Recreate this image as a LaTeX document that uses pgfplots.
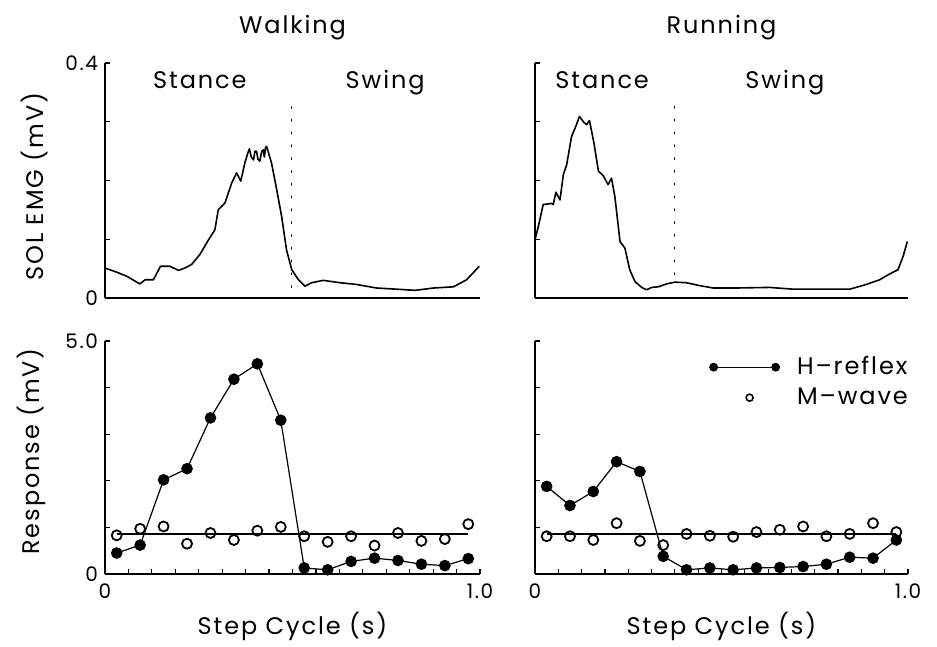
\documentclass[border=0pt]{standalone}
\usepackage{pgfplots}
\pgfplotsset{compat=1.18}
\usepackage{fontspec}
\setmainfont{Poppins}[LetterSpace=8]
\newcommand\lab{\fontsize{12}{14}\selectfont}
\newcommand\tic{\fontsize{10}{12}\selectfont}

\pgfplotsset{
  panel/.style={
    scale only axis, anchor=south west,
    axis lines*=left, xmin=0, xmax=1, ymin=0,
    axis line style={line width=0.75pt},
    tick align=inside, major tick length=2.5pt, minor tick length=2.5pt,
    every tick/.style={line width=0.6pt, black},
    tick label style={font=\tic},
    title style={font=\lab, at={(0.5,1)}, anchor=base, yshift=8.5pt},
    label style={font=\lab},
    clip=false,
  },
  emg/.style={panel, width=187.5pt, height=117.5pt, ymax=0.4,
    xtick=\empty, ytick={0,0.1,0.2,0.3,0.4}},
  resp/.style={panel, width=187.5pt, height=116.5pt, ymax=5,
    ytick={0,1,2,3,4,5}, xtick={0,1}, xticklabels={0,1.0},
    minor xtick={0.0625,0.125,0.1875,0.25,0.3125,0.375,0.4375,0.5,0.5625,0.625,0.6875,0.75,0.8125,0.875,0.9375},
    xticklabel style={yshift=-1.5pt},
    xlabel={Step Cycle (s)},
    xlabel style={at={(0.5,0)}, anchor=base, yshift=-30.5pt}},
  trace/.style={black, line width=0.8pt, line join=round},
  stride/.style={black, line width=0.6pt, dash pattern=on 0.8pt off 5.6pt, line cap=round},
  meanline/.style={black, line width=0.7pt},
  hrefl/.style={black, line width=0.6pt, mark=*, mark size=2.6pt, mark options={fill=black}},
  mwave/.style={only marks, mark=o, mark size=2.5pt, mark options={line width=0.9pt, fill=white, draw=black}},
}

\begin{document}
\begin{tikzpicture}
\useasboundingbox (0,0) rectangle (468.5pt,323.5pt);

% ---------- Walking: soleus EMG ----------
\begin{axis}[emg, at={(52.5pt,174.5pt)}, title={Walking},
  yticklabels={0,,,,0.4},
  ylabel={SOL EMG (mV)},
  ylabel style={at={(axis description cs:-0.187,0.474)}, anchor=center}]
\addplot[trace] coordinates {
(0,0.051)(0.031,0.044)(0.058,0.037)(0.093,0.024)(0.107,0.031)(0.129,0.031)
(0.148,0.054)(0.173,0.054)(0.196,0.047)(0.213,0.051)(0.231,0.057)(0.253,0.074)
(0.276,0.099)(0.293,0.116)(0.302,0.150)(0.320,0.162)(0.338,0.196)(0.351,0.213)
(0.362,0.199)(0.373,0.230)(0.380,0.245)(0.385,0.254)(0.390,0.240)(0.396,0.235)
(0.400,0.250)(0.404,0.250)(0.408,0.236)(0.413,0.233)(0.418,0.250)(0.422,0.252)
(0.425,0.240)(0.428,0.256)(0.431,0.258)(0.444,0.230)(0.458,0.184)(0.471,0.139)
(0.484,0.082)(0.498,0.048)(0.516,0.031)(0.533,0.020)(0.551,0.026)(0.582,0.030)
(0.627,0.026)(0.671,0.023)(0.724,0.017)(0.778,0.015)(0.827,0.013)(0.876,0.017)
(0.929,0.019)(0.964,0.031)(0.982,0.043)(0.998,0.054)};
\addplot[stride] coordinates {(0.498,0.018)(0.498,0.335)};
\node[font=\lab, anchor=base] at (axis cs:0.253,0.357) {Stance};
\node[font=\lab, anchor=base] at (axis cs:0.747,0.357) {Swing};
\end{axis}

% ---------- Running: soleus EMG ----------
\begin{axis}[emg, at={(267.5pt,174.5pt)}, width=186.5pt, title={Running},
  yticklabels={}]
\addplot[trace] coordinates {
(0,0.099)(0.009,0.122)(0.022,0.159)(0.045,0.161)(0.049,0.159)(0.056,0.180)
(0.067,0.167)(0.076,0.210)(0.085,0.227)(0.098,0.275)(0.110,0.293)(0.119,0.309)
(0.131,0.299)(0.138,0.295)(0.146,0.302)(0.158,0.264)(0.170,0.216)(0.183,0.208)
(0.196,0.193)(0.205,0.204)(0.214,0.173)(0.228,0.096)(0.241,0.085)(0.254,0.048)
(0.268,0.028)(0.286,0.018)(0.299,0.014)(0.313,0.018)(0.330,0.019)(0.353,0.024)
(0.375,0.027)(0.406,0.026)(0.442,0.021)(0.478,0.017)(0.540,0.017)(0.629,0.018)
(0.692,0.015)(0.763,0.015)(0.844,0.015)(0.888,0.023)(0.924,0.031)(0.951,0.041)
(0.973,0.048)(0.987,0.071)(0.998,0.096)};
\addplot[stride] coordinates {(0.373,0.040)(0.373,0.335)};
\node[font=\lab, anchor=base] at (axis cs:0.180,0.357) {Stance};
\node[font=\lab, anchor=base] at (axis cs:0.670,0.357) {Swing};
\end{axis}

% ---------- Walking: responses ----------
\begin{axis}[resp, at={(52.5pt,36.5pt)},
  yticklabels={0,,,,,5.0},
  ylabel={Response (mV)},
  ylabel style={at={(axis description cs:-0.195,0.526)}, anchor=center}]
\addplot[meanline] coordinates {(0.031,0.86)(0.969,0.86)};
\addplot[mwave] coordinates {
(0.03125,0.83)(0.09375,0.97)(0.15625,1.02)(0.21875,0.65)(0.28125,0.88)(0.34375,0.73)
(0.40625,0.93)(0.46875,1.01)(0.53125,0.81)(0.59375,0.69)(0.65625,0.81)(0.71875,0.61)
(0.78125,0.88)(0.84375,0.71)(0.90625,0.75)(0.96875,1.07)};
\addplot[hrefl] coordinates {
(0.03125,0.45)(0.09375,0.62)(0.15625,2.02)(0.21875,2.26)(0.28125,3.35)(0.34375,4.18)
(0.40625,4.51)(0.46875,3.30)(0.53125,0.13)(0.59375,0.09)(0.65625,0.27)(0.71875,0.34)
(0.78125,0.29)(0.84375,0.21)(0.90625,0.18)(0.96875,0.33)};
\end{axis}

% ---------- Running: responses ----------
\begin{axis}[resp, at={(267.5pt,36.5pt)}, width=186.5pt,
  yticklabels={},
  legend cell align=left,
  legend style={at={(rel axis cs:0.466,0.948)}, anchor=north west,
    draw=none, fill=none, inner sep=0pt, font=\lab,
    row sep=2pt, column sep=7pt, nodes={inner sep=1.5pt}}]
\addplot[meanline, forget plot] coordinates {(0.031,0.86)(0.969,0.86)};
\addplot[mwave, forget plot] coordinates {
(0.03125,0.81)(0.09375,0.81)(0.15625,0.73)(0.21875,1.09)(0.28125,0.71)(0.34375,0.62)
(0.40625,0.86)(0.46875,0.82)(0.53125,0.80)(0.59375,0.90)(0.65625,0.95)(0.71875,1.02)
(0.78125,0.81)(0.84375,0.86)(0.90625,1.09)(0.96875,0.90)};
\addplot[hrefl, forget plot] coordinates {
(0.03125,1.88)(0.09375,1.47)(0.15625,1.77)(0.21875,2.41)(0.28125,2.20)(0.34375,0.38)
(0.40625,0.09)(0.46875,0.13)(0.53125,0.09)(0.59375,0.13)(0.65625,0.14)(0.71875,0.16)
(0.78125,0.21)(0.84375,0.36)(0.90625,0.34)(0.96875,0.73)};
\addlegendimage{legend image code/.code={
  \draw[line width=0.5pt] (0pt,0pt) -- (31pt,0pt);
  \fill (0pt,0pt) circle (2pt);
  \fill (31pt,0pt) circle (2pt);}}
\addlegendentry{H--reflex}
\addlegendimage{legend image code/.code={
  \draw[line width=0.8pt] (18pt,0pt) circle (1.75pt);}}
\addlegendentry{M--wave}
\end{axis}
\end{tikzpicture}
\end{document}
